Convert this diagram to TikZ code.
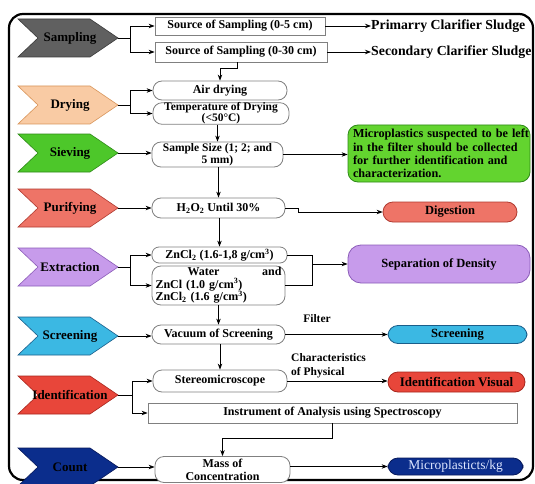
\documentclass[tikz,border=0pt]{standalone}
\usepackage{fontspec}
\setmainfont{Liberation Serif}
\usetikzlibrary{arrows.meta}
\definecolor{sampF}{HTML}{606060}\definecolor{sampD}{HTML}{3A3A3A}
\definecolor{dryF}{HTML}{F9CBA4}\definecolor{dryD}{HTML}{D9955A}
\definecolor{sievF}{HTML}{4DC72A}\definecolor{sievD}{HTML}{2E8A18}
\definecolor{purF}{HTML}{EE7467}\definecolor{purD}{HTML}{B03A30}
\definecolor{extF}{HTML}{C79BEB}\definecolor{extD}{HTML}{8B5CB8}
\definecolor{scrF}{HTML}{3BB8E3}\definecolor{scrD}{HTML}{1A5E8A}
\definecolor{idF}{HTML}{E8463A}\definecolor{idD}{HTML}{A8251C}
\definecolor{cntF}{HTML}{0B2D8C}\definecolor{cntD}{HTML}{06185A}
\definecolor{grF}{HTML}{63D42F}\definecolor{boxD}{HTML}{808080}
\definecolor{mpT}{HTML}{DDE6FF}
\newcommand\chevron[5]{%
  \filldraw[fill=#3,draw=#4,line width=0.6pt] (18,#2-19) -- (90,#2-19) -- (118,#2) -- (90,#2+19) -- (18,#2+19) -- (38,#2) -- cycle;
  \node[chevtxt] (#1) at (70,#2) {#5};
  \coordinate (#1t) at (118,#2);
}
\newcommand\jline[1]{\makebox[172pt][s]{#1}}
\begin{document}
\begin{tikzpicture}[x=1pt,y=-1pt,
  mbox/.style={draw=boxD,line width=0.8pt,fill=white,rounded corners=9pt,inner sep=0pt,align=center,font=\fontsize{12}{13.5}\selectfont\bfseries},
  rbox/.style={draw=boxD,line width=0.8pt,fill=white,inner sep=0pt,align=center,font=\fontsize{12}{13.5}\selectfont\bfseries},
  cbox/.style={line width=0.8pt,rounded corners=10pt,inner sep=0pt,align=center,font=\fontsize{12.5}{14}\selectfont\bfseries},
  chevtxt/.style={inner sep=0pt,font=\fontsize{13}{15}\selectfont\bfseries},
  lab/.style={inner sep=0pt,font=\fontsize{13.8}{15}\selectfont\bfseries},
  slab/.style={inner sep=0pt,align=left,font=\fontsize{11.5}{14}\selectfont\bfseries},
  lin/.style={line width=0.9pt},
  arr/.style={line width=0.9pt,-{Stealth[length=6pt,width=4.5pt]}}]
\useasboundingbox (0,0) rectangle (535,484);
\fill[white] (0,0) rectangle (535,484);
\draw[line width=2.2pt,rounded corners=14pt] (9,14) rectangle (533,480);

% chevrons
\chevron{samp}{38}{sampF}{sampD}{Sampling}
\chevron{dry}{105}{dryF}{dryD}{Drying}
\chevron{siev}{153}{sievF}{sievD}{Sieving}
\chevron{pur}{208}{purF}{purD}{Purifying}
\chevron{ext}{267}{extF}{extD}{Extraction}
\chevron{scr}{336}{scrF}{scrD}{Screening}
\chevron{ident}{395}{idF}{idD}{Identification}
\chevron{cnt}{467}{cntF}{cntD}{Count}

% sampling
\node[rbox,minimum width=170,minimum height=18] (src1) at (240,26) {Source of Sampling (0-5 cm)};
\node[rbox,minimum width=172,minimum height=20] (src2) at (241,52) {Source of Sampling (0-30 cm)};
\node[lab,anchor=west] (pcs) at (371,26) {Primarry Clarifier Sludge};
\node[lab,anchor=west] (scs) at (371,52) {Secondary Clarifier Sludge};
\coordinate (sj) at (130,38);
\draw[lin] (sampt) -- (sj);
\draw[arr] (sj) |- (src1.west);
\draw[arr] (sj) |- (src2.west);
\draw[arr] (src1.east) -- (src1.east -| pcs.west);
\draw[arr] (src2.east) -- (src2.east -| scs.west);

% drying
\node[mbox,minimum width=134,minimum height=19] (air) at (220,90.5) {Air drying};
\node[mbox,minimum width=136,minimum height=21,font=\fontsize{11.5}{11}\selectfont\bfseries] (temp) at (221,113.5) {Temperature of Drying\\(<50°C)};
\draw[arr] ([xshift=-4pt]src2.south) -- ++(0,6) -| (air.north);
\coordinate (dj) at (130,105);
\draw[lin] (dryt) -- (dj);
\draw[arr] (dj) |- (air.west);
\draw[arr] (dj) |- (temp.west);

% sieving
\node[mbox,minimum width=131,minimum height=25,font=\fontsize{11.5}{12}\selectfont\bfseries] (sample) at (217.5,154.5) {Sample Size (1; 2; and\\5 mm)};
\node[cbox,draw=sievD,fill=grF,minimum width=182,minimum height=57,text width=172,align=left,font=\fontsize{12.2}{13.3}\selectfont\bfseries] (gr) at (439,153.5) {\jline{Microplastics suspected to be left}\\\jline{in the filter should be collected}\\\jline{for further identification and}\\characterization.};
\draw[arr] (temp.south -| sample.north) -- (sample.north);
\draw[arr] (sievt) -- (sievt -| sample.west);
\draw[arr] (sample.east) -- (sample.east -| gr.west);

% purifying
\node[mbox,minimum width=133,minimum height=20] (h2o) at (218.5,208) {H\textsubscript{2}O\textsubscript{2} Until 30\%};
\node[cbox,draw=purD,fill=purF,minimum width=134,minimum height=20] (dig) at (450,212) {Digestion};
\draw[arr] (sample.south -| h2o.north) -- (h2o.north);
\draw[arr] (purt) -- (purt -| h2o.west);
\draw[arr] (h2o.east) -- ++(13,0) |- (dig.west);

% extraction
\node[mbox,minimum width=135,minimum height=16,rounded corners=7pt] (zn) at (219.5,255) {ZnCl\textsubscript{2} (1.6-1,8 g/cm\textsuperscript{3})};
\node[mbox,minimum width=133,minimum height=39,text width=126,align=left,font=\fontsize{12}{12.5}\selectfont\bfseries] (wat) at (218.5,285.5) {\hspace*{32pt}Water\hfill and\\ZnCl (1.0 g/cm\textsuperscript{3})\\ZnCl\textsubscript{2} (1.6 g/cm\textsuperscript{3})};
\node[cbox,draw=extD,fill=extF,minimum width=182,minimum height=38,rounded corners=13pt] (sep) at (439,264) {Separation of Density};
\draw[arr] (h2o.south -| zn.north) -- (zn.north);
\coordinate (ej) at (130,267);
\draw[lin] (extt) -- (ej);
\draw[arr] (ej) |- (zn.west);
\draw[arr] (ej) |- (wat.west);
\coordinate (rj) at (312,264);
\draw[lin] (zn.east) -| (rj);
\draw[lin] (wat.east) -| (rj);
\draw[arr] (rj) -- (sep.west);

% screening
\node[mbox,minimum width=133,minimum height=19] (vac) at (218.5,334.5) {Vacuum of Screening};
\node[cbox,draw=scrD,fill=scrF,minimum width=139,minimum height=18] (scb) at (457.5,334.5) {Screening};
\node[slab] (filt) at (317,319) {Filter};
\draw[arr] (wat.south -| vac.north) -- (vac.north);
\draw[arr] (scrt) -- (scrt -| vac.west);
\draw[arr] (vac.east) -- (scb.west);

% identification
\node[mbox,minimum width=134,minimum height=22] (ster) at (220,381) {Stereomicroscope};
\node[rbox,minimum width=369,minimum height=20] (inst) at (332.5,413) {Instrument of Analysis using Spectroscopy};
\node[cbox,draw=idD,fill=idF,minimum width=137,minimum height=20,font=\fontsize{13}{14}\selectfont\bfseries] (idv) at (456.5,382) {Identification Visual};
\node[slab,anchor=west] (chp) at (291,366) {Characteristics\\of Physical};
\draw[arr] (vac.south -| ster.north) -- (ster.north);
\coordinate (ij) at (132,395);
\draw[lin] (identt) -- (ij);
\draw[arr] (ij) |- (ster.west);
\draw[arr] (ij) |- (inst.west);
\draw[arr] (ster.east) -- (ster.east -| idv.west);

% count
\node[mbox,minimum width=135,minimum height=26,font=\fontsize{12}{13}\selectfont\bfseries] (mass) at (222.5,469.5) {Mass of\\Concentration};
\node[cbox,draw=cntD,fill=cntF,minimum width=135,minimum height=17,text=mpT,font=\fontsize{13.5}{14}\selectfont] (mp) at (455.5,466.5) {Microplasticts/kg};
\draw[arr] (inst.south) -- ++(0,15) -| (mass.north);
\draw[arr] (cntt) -- (cntt -| mass.west);
\draw[arr] (mass.east |- mp.west) -- (mp.west);
\end{tikzpicture}
\end{document}
